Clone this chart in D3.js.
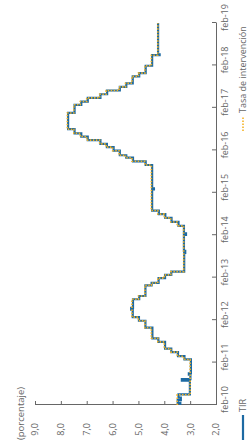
<!DOCTYPE html>
<html>
<head>
<meta charset="utf-8">
<script src="https://cdn.jsdelivr.net/npm/d3@7"></script>
<style>
  body { margin: 0; background: #fff; }
  svg { display: block; }
  .axis text { font-family: "Open Sans", sans-serif; font-size: 9px; fill: #666; }
  .axis path, .axis line { stroke: #666; }
</style>
</head>
<body>
<div id="chart"></div>
<script>
// tasa de intervencion: fechas de cambio y nivel
const rateDates = ["2010-02-01","2010-04-30","2011-02-28","2011-03-28","2011-05-02","2011-06-01","2011-07-29","2011-08-29","2011-11-28","2012-01-27","2012-02-27","2012-07-30","2012-08-27","2012-11-26","2012-12-17","2013-01-28","2013-02-25","2013-03-25","2014-04-22","2014-05-26","2014-06-30","2014-08-01","2014-09-01","2015-09-28","2015-10-30","2015-11-30","2015-12-21","2016-01-29","2016-02-29","2016-03-28","2016-04-29","2016-05-30","2016-06-27","2016-08-01","2016-12-19","2017-02-27","2017-03-27","2017-04-28","2017-05-29","2017-06-30","2017-07-31","2017-08-31","2017-10-30","2017-11-27","2018-01-29","2018-04-30","2019-02-01"];
const rateValues = [3.5,3.0,3.25,3.5,3.75,4.0,4.25,4.5,4.75,5.0,5.25,5.0,4.75,4.5,4.25,4.0,3.75,3.25,3.5,3.75,4.0,4.25,4.5,4.75,5.25,5.5,5.75,6.0,6.25,6.5,7.0,7.25,7.5,7.75,7.5,7.25,7.0,6.5,6.25,5.75,5.5,5.25,5.0,4.75,4.5,4.25,4.25];

// TIR
const tibDates = ["2010-02-01","2010-02-20","2010-03-15","2010-04-05","2010-05-03","2010-08-30","2010-09-12","2010-10-20","2010-11-01","2011-02-28","2011-03-28","2011-05-02","2011-06-01","2011-07-29","2011-08-29","2011-11-28","2012-01-27","2012-02-27","2012-05-02","2012-05-16","2012-07-30","2012-08-27","2012-11-26","2012-12-17","2013-01-28","2013-02-25","2013-03-25","2013-09-02","2013-09-20","2014-02-03","2014-02-17","2014-04-22","2014-05-26","2014-06-30","2014-08-01","2014-09-01","2015-03-02","2015-03-12","2015-09-28","2015-10-30","2015-11-30","2015-12-21","2016-01-29","2016-02-29","2016-03-28","2016-04-29","2016-05-30","2016-06-27","2016-08-01","2016-12-19","2017-02-27","2017-03-27","2017-04-28","2017-05-29","2017-06-30","2017-07-31","2017-08-31","2017-10-30","2017-11-27","2018-01-29","2018-04-30","2018-05-07","2019-02-01"];
const tibValues = [3.38,3.48,3.36,3.45,3.01,3.32,2.99,3.05,2.97,3.22,3.47,3.73,3.97,4.23,4.46,4.73,4.98,5.22,5.28,5.21,4.97,4.73,4.49,4.22,3.97,3.73,3.23,3.19,3.24,3.16,3.24,3.45,3.72,3.96,4.21,4.47,4.40,4.47,4.72,5.21,5.47,5.72,5.96,6.22,6.47,6.96,7.21,7.47,7.72,7.47,7.21,6.96,6.47,6.21,5.72,5.47,5.22,4.97,4.72,4.47,4.18,4.24,4.24];

const yTicks = [2, 3, 4, 5, 6, 7, 8, 9];
const xTickLabels = ["feb-10","feb-11","feb-12","feb-13","feb-14","feb-15","feb-16","feb-17","feb-18","feb-19"];

const W = 448, H = 247;
const parse = d3.timeParse("%Y-%m-%d");
const rate = rateDates.map((d, i) => ({ date: parse(d), value: rateValues[i] }));
const tib = tibDates.map((d, i) => ({ date: parse(d), value: tibValues[i] }));

const svg = d3.select("#chart").append("svg")
  .attr("width", 247)
  .attr("height", 448);

// la figura va girada 90 grados
const g = svg.append("g")
  .attr("transform", "translate(0," + W + ") rotate(-90)");

const x = d3.scaleTime()
  .domain([new Date(2010, 1, 1), new Date(2019, 1, 1)])
  .range([43, 425]);
const y = d3.scaleLinear()
  .domain([2, 9])
  .range([216, 35]);

const xTicks = d3.range(2010, 2020).map(yr => new Date(yr, 1, 1));

const xAxis = g.append("g")
  .attr("class", "axis")
  .attr("transform", "translate(0," + y(2) + ")")
  .call(d3.axisBottom(x).tickValues(xTicks).tickSize(-4).tickSizeOuter(0)
    .tickPadding(6).tickFormat((d, i) => xTickLabels[i]));
xAxis.selectAll("text").attr("dx", 5);

g.append("g")
  .attr("class", "axis")
  .attr("transform", "translate(" + x(xTicks[0]) + ",0)")
  .call(d3.axisLeft(y).tickValues(yTicks).tickSize(-4).tickSizeOuter(0)
    .tickPadding(18).tickFormat(d => d3.format(".1f")(d).replace(".", ",")));

g.append("text")
  .attr("x", 8)
  .attr("y", 24)
  .style("font-family", "Open Sans, sans-serif")
  .style("font-size", "9.5px")
  .style("fill", "#666")
  .text("(porcentaje)");

const line = d3.line()
  .x(d => x(d.date))
  .y(d => y(d.value))
  .curve(d3.curveStepAfter);

g.append("path")
  .datum(tib)
  .attr("fill", "none")
  .attr("stroke", "#1d6aa3")
  .attr("stroke-width", 2.2)
  .attr("d", line);

g.append("path")
  .datum(rate)
  .attr("fill", "none")
  .attr("stroke", "#f4b223")
  .attr("stroke-width", 1.6)
  .attr("stroke-dasharray", "1.5,1.5")
  .attr("d", line);

// leyenda
const leg = g.append("g").attr("transform", "translate(0,243)");
leg.append("line").attr("x1", 8).attr("x2", 33).attr("y1", 0).attr("y2", 0)
  .attr("stroke", "#1d6aa3").attr("stroke-width", 2.2);
leg.append("text").attr("x", 36).attr("y", 3)
  .style("font-family", "Open Sans, sans-serif").style("font-size", "9px").style("fill", "#666")
  .text("TIR");
leg.append("line").attr("x1", 317).attr("x2", 332).attr("y1", 0).attr("y2", 0)
  .attr("stroke", "#f4b223").attr("stroke-width", 1.6).attr("stroke-dasharray", "1.5,1.5");
leg.append("text").attr("x", 335).attr("y", 3)
  .style("font-family", "Open Sans, sans-serif").style("font-size", "9px").style("fill", "#666")
  .text("Tasa de intervención");
</script>
</body>
</html>
